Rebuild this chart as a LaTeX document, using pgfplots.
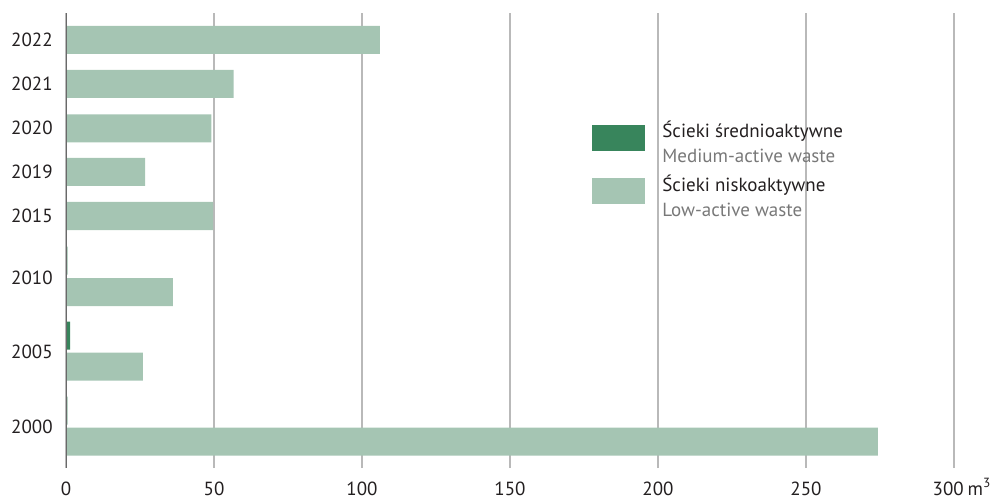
\documentclass[border=0pt]{standalone}
\usepackage{pgfplots}
\pgfplotsset{compat=1.18}
\usepackage{fontspec}
\setmainfont{PT Sans}
\definecolor{lowc}{RGB}{165,197,179}
\definecolor{medc}{RGB}{56,133,92}
\definecolor{gridc}{RGB}{185,185,185}
\definecolor{axc}{RGB}{105,105,105}
\definecolor{subc}{RGB}{120,120,120}
\definecolor{txt}{RGB}{35,31,32}
\begin{document}
\fontsize{9.5}{12.5}\selectfont
\begin{tikzpicture}
\path[use as bounding box] (0,0) rectangle (500pt,249.5pt);
\begin{axis}[
  at={(33pt,15.5pt)}, anchor=south west,
  scale only axis, width=444pt, height=227.5pt,
  xmin=0, xmax=300, ymin=-468, ymax=-13,
  axis x line=bottom, axis y line=left,
  axis line style={draw=none},
  major tick length=0pt,
  xtick={0,50,100,150,200,250,300},
  xticklabels={0,50,100,150,200,250,\hspace*{8pt}300\hspace{0.2em}m\smash{\textsuperscript{3}}},
  ytick={-427,-352,-278,-216,-172,-128,-84,-40},
  yticklabels={2000,2005,2010,2015,2019,2020,2021,2022},
  xticklabel style={text=txt, yshift=-3.5pt},
  yticklabel style={text=txt, xshift=-3.3pt},
  xmajorgrids, grid style={gridc, line width=0.6pt},
  legend style={at={(0.5923,0.7648)}, anchor=north west, draw=none, fill=none,
    inner sep=0pt, row sep=10.5pt, column sep=8.5pt, cells={anchor=west},
    nodes={inner sep=0pt, text=txt}},
  legend image code/.code={\fill[#1] (0pt,-7.2pt) rectangle (26.5pt,5.8pt);},
]
\addplot[xbar, bar width=28, bar shift=0pt, fill=medc, draw=none]
  coordinates {(0.5,-260.5) (1.4,-335.5) (0.5,-410.5)};
\addlegendentry{\begin{tabular}{@{}l@{}}Ścieki średnioaktywne\\ \textcolor{subc}{Medium-active waste}\end{tabular}}
\addplot[xbar, bar width=28, bar shift=0pt, fill=lowc, draw=none]
  coordinates {(106,-40) (56.6,-84) (49.1,-128.5) (26.7,-172) (49.7,-216)
               (36.1,-292) (26,-366.5) (274.3,-441.5)};
\addlegendentry{\begin{tabular}{@{}l@{}}Ścieki niskoaktywne\\ \textcolor{subc}{Low-active waste}\end{tabular}}
\draw[axc, line width=0.7pt] (axis cs:0,-468) -- (axis cs:0,-13);
\end{axis}
\end{tikzpicture}
\end{document}
